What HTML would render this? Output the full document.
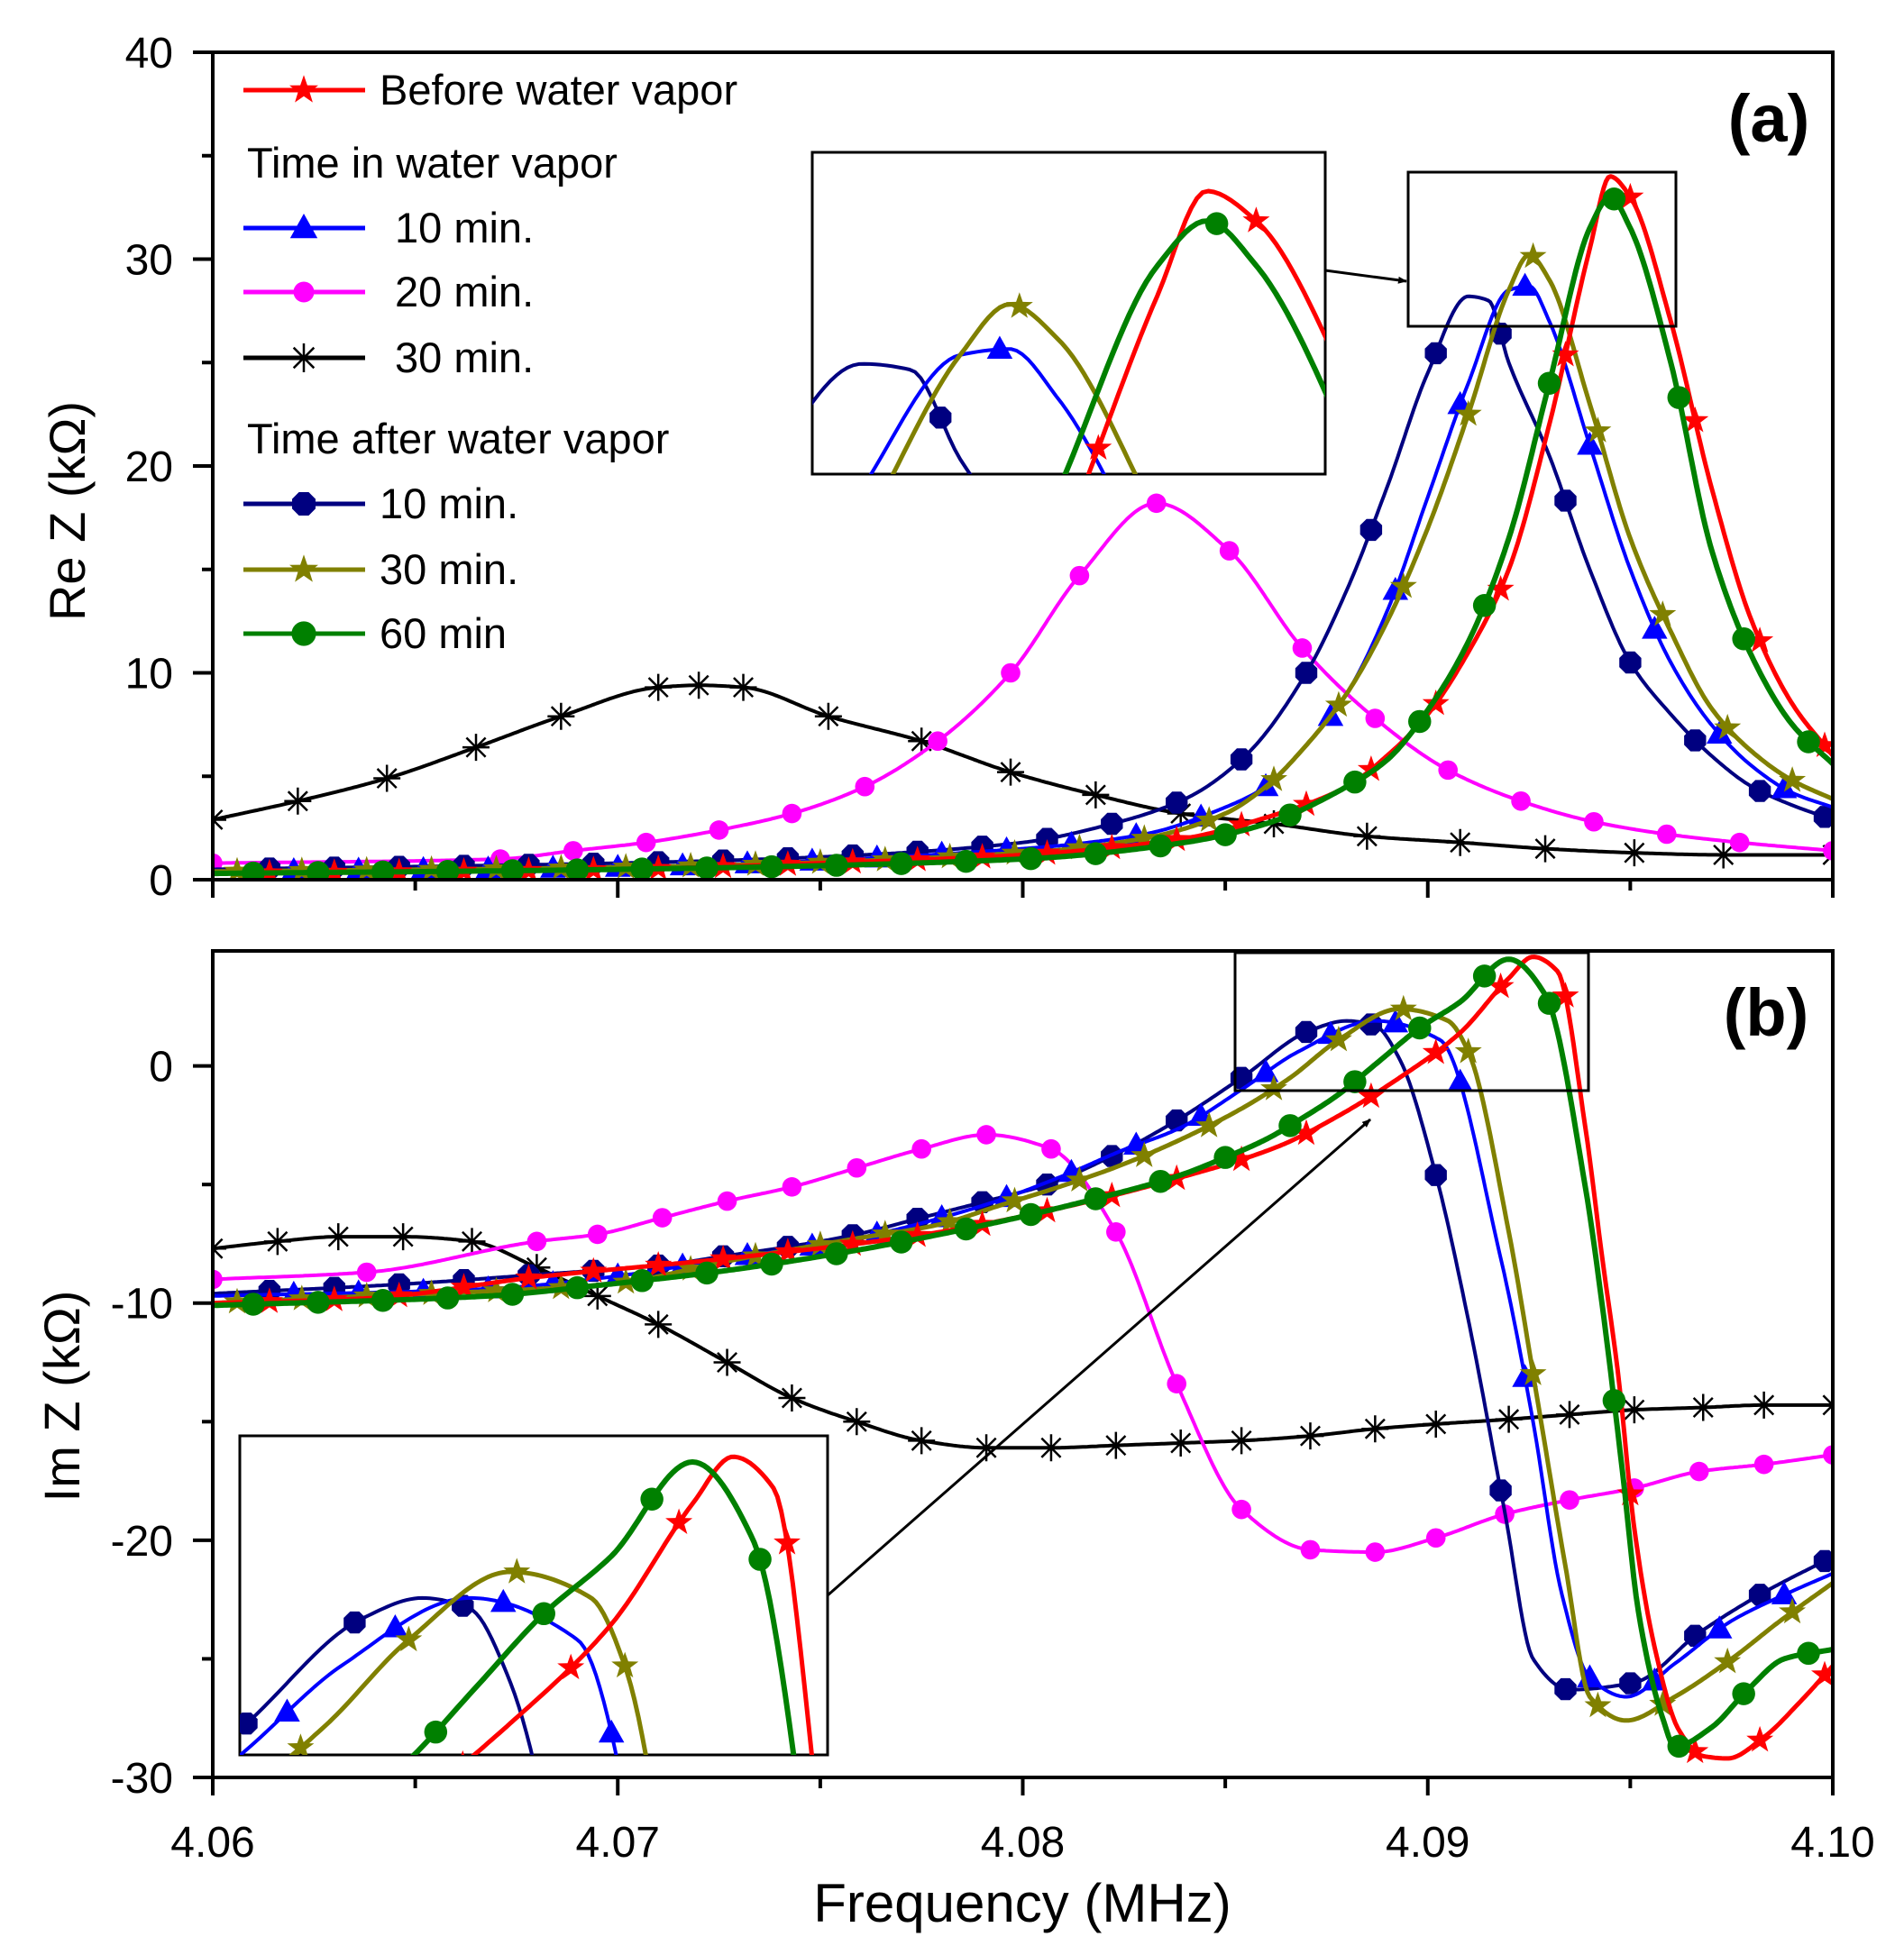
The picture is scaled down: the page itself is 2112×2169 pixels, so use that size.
<!DOCTYPE html>
<html><head><meta charset="utf-8"><style>
html,body{margin:0;padding:0;background:#fff;width:2112px;height:2169px;overflow:hidden;}
svg{display:block;font-family:"Liberation Sans",Arial,sans-serif;}
</style></head><body>
<svg id="chart" width="2112" height="2169" viewBox="0 0 2112 2169" xmlns="http://www.w3.org/2000/svg">
<defs>
<clipPath id="clipA"><rect x="236" y="58" width="1797" height="918"/></clipPath>
<clipPath id="clipB"><rect x="236" y="1055" width="1797" height="917"/></clipPath>
<clipPath id="clipIA"><rect x="901" y="169" width="569" height="357"/></clipPath>
<clipPath id="clipIB"><rect x="266" y="1593" width="652" height="354"/></clipPath>
<marker id="arrowhead" markerWidth="10" markerHeight="8" refX="9" refY="4" orient="auto" markerUnits="userSpaceOnUse"><path d="M0,0 L10,4 L0,8 z" fill="#000"/></marker>
</defs>
<g id="root"></g>
</svg>
<script>
// ---------- DATA ----------
const seriesNames = ["before","in10","in20","in30","after10","after30","after60"];
// Panel (a) Re Z (kOhm)
const aBeforeF = [4.06,4.07,4.075,4.08,4.084,4.086,4.088,4.089,4.090,4.091,4.092,4.093,4.094,4.0945,4.095,4.096,4.097,4.098,4.099,4.100];
const aBeforeV = [0.3,0.5,0.8,1.2,2.0,3.0,4.5,6.0,8.0,11,15,22,30.5,34,33,27,19,12.5,8.5,6.0];
const aAfter60F = [4.06,4.07,4.08,4.084,4.086,4.088,4.089,4.090,4.091,4.092,4.093,4.094,4.0945,4.095,4.096,4.097,4.098,4.099,4.100];
const aAfter60V = [0.3,0.5,1.0,1.8,2.7,4.5,5.8,8.2,11.5,16.5,24,31.5,33,31.5,25,16,10.8,7.5,5.6];
const aAfter30F = [4.06,4.07,4.08,4.083,4.085,4.086,4.087,4.088,4.089,4.090,4.091,4.092,4.0925,4.093,4.094,4.095,4.096,4.097,4.098,4.099,4.100];
const aAfter30V = [0.4,0.6,1.3,2.0,3.2,4.5,6.5,9.0,12.5,17,22.5,28.5,30.2,29,23,16.5,12,8.3,6.2,4.8,3.9];
const aIn10F = [4.06,4.07,4.08,4.083,4.085,4.086,4.087,4.088,4.089,4.090,4.091,4.092,4.0925,4.093,4.094,4.095,4.096,4.097,4.098,4.099,4.100];
const aIn10V = [0.4,0.6,1.5,2.2,3.5,4.5,6.5,9,13,18.5,24,28.5,28.7,27,21,15,10.5,7.5,5.5,4.2,3.5];
const aAfter10F = [4.06,4.07,4.075,4.08,4.082,4.084,4.0855,4.087,4.088,4.089,4.090,4.091,4.0915,4.092,4.093,4.094,4.095,4.096,4.097,4.098,4.099,4.100];
const aAfter10V = [0.5,0.8,1.1,1.8,2.6,3.9,6,10,14,19,24.5,28.2,28,25,20.5,15,10.5,8,6,4.5,3.6,2.9];
const aIn20F = [4.06,4.0671,4.0689,4.0707,4.0725,4.0743,4.0761,4.0779,4.0797,4.0814,4.0833,4.0851,4.0869,4.0887,4.0905,4.0923,4.0941,4.0959,4.0977,4.1];
const aIn20V = [0.8,1.0,1.4,1.8,2.4,3.2,4.5,6.7,10,14.7,18.2,15.9,11.2,7.8,5.3,3.8,2.8,2.2,1.8,1.4];
const aIn30F = [4.06,4.0621,4.0643,4.0665,4.0686,4.071,4.072,4.0731,4.0752,4.0775,4.0797,4.0818,4.0839,4.0862,4.0885,4.0908,4.0929,4.0951,4.0973,4.1];
const aIn30V = [2.9,3.8,4.9,6.4,7.9,9.3,9.4,9.3,7.9,6.7,5.2,4.1,3.2,2.7,2.1,1.8,1.5,1.3,1.2,1.2];
// Panel (b) Im Z (kOhm)
const bIn30F = [4.060,4.0616,4.0631,4.0647,4.0664,4.0680,4.0695,4.0710,4.0727,4.0743,4.0759,4.0775,4.0791,4.0807,4.0823,4.0839,4.0854,4.0871,4.0887,4.0902,4.0920,4.0935,4.0951,4.0968,4.0983,4.1000];
const bIn30V = [-7.7,-7.4,-7.2,-7.2,-7.4,-8.5,-9.7,-10.9,-12.5,-14,-15,-15.8,-16.1,-16.1,-16,-15.9,-15.8,-15.6,-15.3,-15.1,-14.9,-14.7,-14.5,-14.4,-14.3,-14.3];
const bIn20F = [4.060,4.0638,4.0680,4.0695,4.0711,4.0727,4.0743,4.0759,4.0775,4.0791,4.0807,4.0823,4.0838,4.0854,4.0871,4.0887,4.0902,4.0919,4.0935,4.0951,4.0967,4.0983,4.1];
const bIn20V = [-9,-8.7,-7.4,-7.1,-6.4,-5.7,-5.1,-4.3,-3.5,-2.9,-3.5,-7,-13.4,-18.7,-20.4,-20.5,-19.9,-18.9,-18.3,-17.8,-17.1,-16.8,-16.4];
const bBeforeF = [4.06,4.0638,4.068,4.0728,4.0776,4.0809,4.0839,4.0863,4.0878,4.0893,4.0908,4.092,4.0926,4.0932,4.0939,4.0943,4.0947,4.0951,4.0956,4.0962,4.0968,4.0974,4.0983,4.0992,4.1];
const bBeforeV = [-10,-9.8,-8.9,-8.1,-7.1,-6,-4.7,-3.4,-2.1,-0.5,1.4,3.7,4.6,4.0,-2.7,-8,-13,-19.5,-24.5,-28,-29.1,-29.2,-28.3,-26.8,-25.3];
const bAfter60F = [4.06,4.0668,4.0698,4.0728,4.0758,4.0788,4.0818,4.0839,4.0848,4.086,4.0869,4.0878,4.0888,4.0898,4.0908,4.092,4.0929,4.0939,4.0943,4.0948,4.0952,4.0958,4.0961,4.097,4.0979,4.0988,4.1];
const bAfter60V = [-10.1,-9.7,-9.2,-8.6,-7.8,-6.8,-5.6,-4.6,-4.0,-3.1,-2.2,-1.2,0.2,1.6,2.7,4.5,3.0,-5.2,-10,-17,-23,-27.5,-28.7,-27.9,-26.3,-25,-24.6];
const bAfter30F = [4.06,4.0638,4.0668,4.0698,4.0728,4.0758,4.0779,4.0794,4.0809,4.0824,4.0839,4.0854,4.0866,4.0878,4.0893,4.0905,4.0910,4.092,4.0927,4.0934,4.094,4.0949,4.0961,4.0975,4.0987,4.1];
const bAfter30V = [-10,-9.7,-9.5,-9.2,-8.2,-7.3,-6.7,-5.9,-5.1,-4.2,-3.1,-1.8,-0.5,1.1,2.4,1.9,0.6,-7,-14,-21.1,-26.6,-27.6,-26.6,-25,-23.4,-21.8];
const bIn10F = [4.06,4.0668,4.0698,4.0728,4.0758,4.0788,4.0809,4.0824,4.0839,4.0854,4.0868,4.0887,4.0903,4.0918,4.0926,4.0933,4.094,4.0949,4.0961,4.0975,4.0988,4.1];
const bIn10V = [-9.7,-9.4,-8.9,-8.1,-7.3,-6,-4.7,-3.6,-2.6,-1,0.6,1.9,1.1,-8.1,-15,-22.2,-25.8,-26.6,-25.2,-23.4,-22.3,-21.4];
const bAfter10F = [4.06,4.0647,4.068,4.0711,4.0727,4.0743,4.0759,4.0775,4.0791,4.0806,4.0822,4.0838,4.0854,4.0871,4.0880,4.0887,4.0893,4.0902,4.091,4.0919,4.0926,4.0935,4.0951,4.0967,4.0983,4.1];
const bAfter10V = [-9.6,-9.2,-8.8,-8.4,-8,-7.6,-7.1,-6.4,-5.7,-5,-3.8,-2.3,-0.5,1.5,1.9,1.7,0.3,-4.6,-10.7,-18.8,-25,-26.3,-26,-23.9,-22.2,-20.7];
const markerStart = {before:4.0614,in10:4.0620,in20:4.0600,in30:4.0600,after10:4.0614,after30:4.0606,after60:4.0610};
const markerStep = 0.0016;
const xTicks = [4.06,4.07,4.08,4.09,4.10];
const xTickLabels = ["4.06","4.07","4.08","4.09","4.10"];
const aTicks = [0,10,20,30,40];
const bTicks = [-30,-20,-10,0];

// ---------- STYLE ----------
const style = {
  before:{color:"#ff0000",shape:"star",w:5},
  in10:{color:"#0000ff",shape:"tri",w:4},
  in20:{color:"#ff00ff",shape:"circ",w:4},
  in30:{color:"#000000",shape:"ast",w:4},
  after10:{color:"#000080",shape:"hex",w:4},
  after30:{color:"#808000",shape:"star",w:5},
  after60:{color:"#008000",shape:"circ2",w:6}
};
const NS="http://www.w3.org/2000/svg";
const root=document.getElementById('root');
function el(tag,attrs,parent){const e=document.createElementNS(NS,tag);for(const k in attrs)e.setAttribute(k,attrs[k]);(parent||root).appendChild(e);return e;}

const X0=236,X1=2033;
function X(f){return X0+(f-4.06)/0.04*(X1-X0);}
function Ya(v){return 976-v*(918/40);}
function Yb(v){return 1972-(v+30)*(917/34.85);}
function IAx(f){return 901+(f-4.0905)/0.0052*569;}
function IAy(v){return 526-(v-24.5)/(35.3-24.5)*357;}
function IBx(f){return 266+(f-4.0853)/(4.094-4.0853)*652;}
function IBy(v){return 1947-(v+1.1)/(5.0+1.1)*354;}

function mono(xs,ys){
  const n=xs.length,d=[],m=new Array(n);
  for(let i=0;i<n-1;i++)d.push((ys[i+1]-ys[i])/(xs[i+1]-xs[i]));
  m[0]=d[0];m[n-1]=d[n-2];
  for(let i=1;i<n-1;i++){ if(d[i-1]*d[i]<=0)m[i]=0; else {const h0=xs[i]-xs[i-1],h1=xs[i+1]-xs[i];const w1=2*h1+h0,w2=h1+2*h0;m[i]=(w1+w2)/(w1/d[i-1]+w2/d[i]);} }
  return function(x){
    if(x<=xs[0])return ys[0]; if(x>=xs[n-1])return ys[n-1];
    let i=0;while(x>xs[i+1])i++;
    const h=xs[i+1]-xs[i],t=(x-xs[i])/h,t2=t*t,t3=t2*t;
    return (2*t3-3*t2+1)*ys[i]+(t3-2*t2+t)*h*m[i]+(-2*t3+3*t2)*ys[i+1]+(t3-t2)*h*m[i+1];
  };
}
function markerShape(shape,x,y,color,s,parent,name){
  let e;
  if(shape==="star"){const pts=[];for(let k=0;k<10;k++){const r=k%2?s*0.42:s*1.05,a=-Math.PI/2+k*Math.PI/5;pts.push((x+r*Math.cos(a)).toFixed(1)+","+(y+r*Math.sin(a)).toFixed(1));}e=el('polygon',{points:pts.join(' '),fill:color},parent);}
  else if(shape==="tri"){e=el('polygon',{points:`${x},${y-s} ${x-s*0.95},${y+s*0.7} ${x+s*0.95},${y+s*0.7}`,fill:color},parent);}
  else if(shape==="circ"){e=el('circle',{cx:x,cy:y,r:s*0.72,fill:color},parent);}
  else if(shape==="circ2"){e=el('circle',{cx:x,cy:y,r:s*0.85,fill:color},parent);}
  else if(shape==="hex"){const pts=[];for(let k=0;k<8;k++){const a=Math.PI/8+k*Math.PI/4;pts.push((x+s*0.88*Math.cos(a)).toFixed(1)+","+(y+s*0.88*Math.sin(a)).toFixed(1));}e=el('polygon',{points:pts.join(' '),fill:color},parent);}
  else { let d="";for(let k=0;k<4;k++){const a=k*Math.PI/4;d+=`M${x-s*Math.cos(a)},${y-s*Math.sin(a)}L${x+s*Math.cos(a)},${y+s*Math.sin(a)}`;}e=el('path',{d:d,stroke:color,'stroke-width':2.5,fill:'none'},parent);}
  
  
  return e;
}
function drawSeries(key,F,V,xf,yf,clip,panel,useDataMarkers,ms){
  const g=el('g',{'clip-path':`url(#${clip})`});
  
  
  const fn=mono(F,V);const st=style[key];
  let d="";const N=700;
  for(let i=0;i<=N;i++){const f=F[0]+(F[F.length-1]-F[0])*i/N;d+=(i?"L":"M")+xf(f).toFixed(1)+","+yf(fn(f)).toFixed(1);}
  const p=el('path',{d:d,stroke:st.color,'stroke-width':st.w,fill:'none','stroke-linejoin':'round'},g);
  
  
  const mf=[];
  if(useDataMarkers){for(const f of F)mf.push(f);}
  else {for(let f=markerStart[key];f<=4.1+1e-9;f+=markerStep)mf.push(f);}
  for(const f of mf){markerShape(st.shape,xf(f),yf(fn(f)),st.color,ms,g,panel+'-marker-'+key);}
}
const A={before:[aBeforeF,aBeforeV],in10:[aIn10F,aIn10V],in20:[aIn20F,aIn20V],in30:[aIn30F,aIn30V],after10:[aAfter10F,aAfter10V],after30:[aAfter30F,aAfter30V],after60:[aAfter60F,aAfter60V]};
const B={before:[bBeforeF,bBeforeV],in10:[bIn10F,bIn10V],in20:[bIn20F,bIn20V],in30:[bIn30F,bIn30V],after10:[bAfter10F,bAfter10V],after30:[bAfter30F,bAfter30V],after60:[bAfter60F,bAfter60V]};
const order=["in30","in20","after10","in10","after30","before","after60"];
const dataMk={in30:true,in20:true};

for(const k of order)drawSeries(k,A[k][0],A[k][1],X,Ya,'clipA','panel-a',dataMk[k],15);
for(const k of order)drawSeries(k,B[k][0],B[k][1],X,Yb,'clipB','panel-b',dataMk[k],15);

function inset(x,y,w,h,name,clip,P,xf,yf){
  const r=el('rect',{x:x,y:y,width:w,height:h,fill:'#fff',stroke:'#000','stroke-width':3});
  
  
  for(const k of ["after10","in10","after30","before","after60"])drawSeries(k,P[k][0],P[k][1],xf,yf,clip,name,false,15);
}
inset(901,169,569,357,'inset-a','clipIA',A,IAx,IAy);
inset(266,1593,652,354,'inset-b','clipIB',B,IBx,IBy);

let e;
e=el('rect',{x:1562,y:191,width:297,height:171,fill:'none',stroke:'#000','stroke-width':3});

e=el('rect',{x:1370,y:1057,width:392,height:153,fill:'none',stroke:'#000','stroke-width':3});

e=el('line',{x1:1470,y1:300,x2:1560,y2:312,stroke:'#000','stroke-width':3,'marker-end':'url(#arrowhead)'});

e=el('line',{x1:918,y1:1770,x2:1520,y2:1242,stroke:'#000','stroke-width':3,'marker-end':'url(#arrowhead)'});


function frame(y0,y1,name){const r=el('rect',{x:X0,y:y0,width:X1-X0,height:y1-y0,fill:'none',stroke:'#000','stroke-width':4});
}
frame(58,976,'panel-a-frame');frame(1055,1972,'panel-b-frame');
function tickLine(x1,y1,x2,y2,name){const t=el('line',{x1,y1,x2,y2,stroke:'#000','stroke-width':4});}
for(let i=0;i<xTicks.length;i++){
  const x=X(xTicks[i]);
  tickLine(x,976,x,996,'x-tick-a');tickLine(x,1972,x,1992,'x-tick-b');
  if(i<xTicks.length-1){const xm=X(xTicks[i]+0.005);tickLine(xm,976,xm,988,'x-minor-tick-a');tickLine(xm,1972,xm,1984,'x-minor-tick-b');}
  const t=el('text',{x:x,y:2060,'font-size':48,'text-anchor':'middle',fill:'#000'});t.textContent=xTickLabels[i];
  
}
for(let i=0;i<aTicks.length;i++){
  const y=Ya(aTicks[i]);tickLine(214,y,X0,y,'y-tick-a');
  if(i<aTicks.length-1){const ym=Ya(aTicks[i]+5);tickLine(224,ym,X0,ym,'y-minor-tick-a');}
  const t=el('text',{x:192,y:y+17,'font-size':48,'text-anchor':'end',fill:'#000'});t.textContent=String(aTicks[i]);
  
}
for(let i=0;i<bTicks.length;i++){
  const y=Yb(bTicks[i]);tickLine(214,y,X0,y,'y-tick-b');
  const ym=Yb(bTicks[i]+5);if(bTicks[i]+5<=4.85)tickLine(224,ym,X0,ym,'y-minor-tick-b');
  const t=el('text',{x:192,y:y+17,'font-size':48,'text-anchor':'end',fill:'#000'});t.textContent=String(bTicks[i]);
  
}
function txt(s,x,y,size,attrs,name){const t=el('text',Object.assign({x,y,'font-size':size,fill:'#000'},attrs||{}));t.textContent=s;return t;}
txt('Frequency (MHz)',1134,2132,60,{'text-anchor':'middle'},'x-axis-title');
txt('Re Z (kΩ)',0,0,56,{'text-anchor':'middle',transform:'translate(94,567) rotate(-90)'},'y-axis-title-a');
txt('Im Z (kΩ)',0,0,56,{'text-anchor':'middle',transform:'translate(88,1549) rotate(-90)'},'y-axis-title-b');
txt('(a)',1962,157,74,{'text-anchor':'middle','font-weight':'bold'},'panel-label-a');
txt('(b)',1959,1149,74,{'text-anchor':'middle','font-weight':'bold'},'panel-label-b');

const legendKeys=["before","in10","in20","in30","after10","after30","after60"];
const legendLabels=["Before water vapor","10 min.","20 min.","30 min.","10 min.","30 min.","60 min"];
const legendY=[100,253,324,397,559,632,703];
const legendTX=[421,438,438,438,421,421,421];
for(let i=0;i<legendKeys.length;i++){
  const g=el('g',{});
  
  
  const st=style[legendKeys[i]];
  const ln=el('line',{x1:270,y1:legendY[i],x2:405,y2:legendY[i],stroke:st.color,'stroke-width':5},g);
  
  markerShape(st.shape,337,legendY[i],st.color,16,g,'legend-marker');
  const t=el('text',{x:legendTX[i],y:legendY[i]+16,'font-size':47,fill:'#000'},g);t.textContent=legendLabels[i];
  
}
txt('Time in water vapor',274,197,47,{},'legend-header-in');
txt('Time after water vapor',274,503,47,{},'legend-header-after');
</script>
</body></html>
